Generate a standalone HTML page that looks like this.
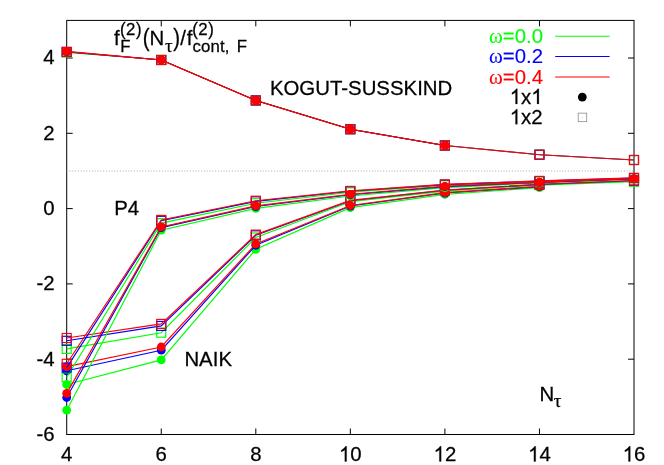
<!DOCTYPE html>
<html><head><meta charset="utf-8"><title>plot</title>
<style>
html,body{margin:0;padding:0;background:#fff;}
svg{display:block;}
text{font-family:"Liberation Sans",sans-serif;font-size:20.4px;stroke:#000;stroke-width:0.25px;}
.sy{font-family:"Liberation Serif",serif;}
.s16{font-size:16.8px;}
.tau{font-size:19px;}
.om{font-size:21px;}
</style></head><body>
<svg width="664" height="465" viewBox="0 0 664 465">
<rect width="664" height="465" fill="#fff"/>
<rect x="66.7" y="20.4" width="567.3" height="414.1" fill="none" stroke="#000" stroke-width="1"/>
<path d="M66.7 58h6M634 58h-6M66.7 133.3h6M634 133.3h-6M66.7 208.6h6M634 208.6h-6M66.7 283.9h6M634 283.9h-6M66.7 359.2h6M634 359.2h-6M161.25 434.5v-6M161.25 20.4v6M255.8 434.5v-6M255.8 20.4v6M350.35 434.5v-6M350.35 20.4v6M444.9 434.5v-6M444.9 20.4v6M539.45 434.5v-6M539.45 20.4v6" stroke="#000" stroke-width="1" fill="none"/>
<line x1="66.7" y1="170.95" x2="634" y2="170.95" stroke="#a8a8a8" stroke-width="1.1" stroke-dasharray="1 1.8"/>
<g stroke="#00ff00" fill="none" stroke-width="1.15">
<polyline points="66.7,52.3 161.25,59.8 255.8,100.3 350.35,129.15 444.9,145.5" stroke-width="0.75"/>
<circle cx="66.7" cy="52.3" r="4.4" fill="#00ff00" stroke="none"/>
<circle cx="161.25" cy="59.8" r="4.4" fill="#00ff00" stroke="none"/>
<circle cx="255.8" cy="100.3" r="4.4" fill="#00ff00" stroke="none"/>
<circle cx="350.35" cy="129.15" r="4.4" fill="#00ff00" stroke="none"/>
<circle cx="444.9" cy="145.5" r="4.4" fill="#00ff00" stroke="none"/>
<polyline points="66.7,52.5 161.25,59.8 255.8,100.3 350.35,129.15 444.9,145.5 539.45,154.7 634,160" stroke-width="0.75"/>
<rect x="62.2" y="48" width="9" height="9"/>
<rect x="156.75" y="55.3" width="9" height="9"/>
<rect x="251.3" y="95.8" width="9" height="9"/>
<rect x="345.85" y="124.65" width="9" height="9"/>
<rect x="440.4" y="141" width="9" height="9"/>
<rect x="534.95" y="150.2" width="9" height="9"/>
<rect x="629.5" y="155.5" width="9" height="9"/>
</g>
<g stroke="#0000ff" fill="none" stroke-width="1.15">
<polyline points="66.7,51.7 161.25,59.95 255.8,100.45 350.35,129.22 444.9,145.5" stroke-width="0.75"/>
<circle cx="66.7" cy="51.7" r="4.4" fill="#0000ff" stroke="none"/>
<circle cx="161.25" cy="59.95" r="4.4" fill="#0000ff" stroke="none"/>
<circle cx="255.8" cy="100.45" r="4.4" fill="#0000ff" stroke="none"/>
<circle cx="350.35" cy="129.22" r="4.4" fill="#0000ff" stroke="none"/>
<circle cx="444.9" cy="145.5" r="4.4" fill="#0000ff" stroke="none"/>
<polyline points="66.7,52 161.25,59.99 255.8,100.45 350.35,129.22 444.9,145.5 539.45,154.7 634,160" stroke-width="0.75"/>
<rect x="62.2" y="47.5" width="9" height="9"/>
<rect x="156.75" y="55.49" width="9" height="9"/>
<rect x="251.3" y="95.95" width="9" height="9"/>
<rect x="345.85" y="124.72" width="9" height="9"/>
<rect x="440.4" y="141" width="9" height="9"/>
<rect x="534.95" y="150.2" width="9" height="9"/>
<rect x="629.5" y="155.5" width="9" height="9"/>
</g>
<g stroke="#ff0000" fill="none" stroke-width="1.15">
<polyline points="66.7,51.3 161.25,60 255.8,100.5 350.35,129.25 444.9,145.5"/>
<circle cx="66.7" cy="51.3" r="4.4" fill="#ff0000" stroke="none"/>
<circle cx="161.25" cy="60" r="4.4" fill="#ff0000" stroke="none"/>
<circle cx="255.8" cy="100.5" r="4.4" fill="#ff0000" stroke="none"/>
<circle cx="350.35" cy="129.25" r="4.4" fill="#ff0000" stroke="none"/>
<circle cx="444.9" cy="145.5" r="4.4" fill="#ff0000" stroke="none"/>
<polyline points="66.7,51.8 161.25,60.05 255.8,100.5 350.35,129.25 444.9,145.5 539.45,154.7 634,160"/>
<rect x="62.2" y="47.3" width="9" height="9"/>
<rect x="156.75" y="55.55" width="9" height="9"/>
<rect x="251.3" y="96" width="9" height="9"/>
<rect x="345.85" y="124.75" width="9" height="9"/>
<rect x="440.4" y="141" width="9" height="9"/>
<rect x="534.95" y="150.2" width="9" height="9"/>
<rect x="629.5" y="155.5" width="9" height="9"/>
</g>
<g stroke="#00ff00" fill="none" stroke-width="1.15">
<polyline points="66.7,384.5 161.25,359.9 255.8,249.3 350.35,207.6 444.9,194.4 539.45,187.7"/>
<circle cx="66.7" cy="384.5" r="4.4" fill="#00ff00" stroke="none"/>
<circle cx="161.25" cy="359.9" r="4.4" fill="#00ff00" stroke="none"/>
<circle cx="255.8" cy="249.3" r="4.4" fill="#00ff00" stroke="none"/>
<circle cx="350.35" cy="207.6" r="4.4" fill="#00ff00" stroke="none"/>
<circle cx="444.9" cy="194.4" r="4.4" fill="#00ff00" stroke="none"/>
<circle cx="539.45" cy="187.7" r="4.4" fill="#00ff00" stroke="none"/>
<polyline points="66.7,348.9 161.25,332.7 255.8,237.5 350.35,201.8 444.9,191.1 539.45,185.1 634,181.8"/>
<rect x="62.2" y="344.4" width="9" height="9"/>
<rect x="156.75" y="328.2" width="9" height="9"/>
<rect x="251.3" y="233" width="9" height="9"/>
<rect x="345.85" y="197.3" width="9" height="9"/>
<rect x="440.4" y="186.6" width="9" height="9"/>
<rect x="534.95" y="180.6" width="9" height="9"/>
<rect x="629.5" y="177.3" width="9" height="9"/>
</g>
<g stroke="#0000ff" fill="none" stroke-width="1.15">
<polyline points="66.7,370.8 161.25,350.2 255.8,245.25 350.35,206.03 444.9,193.05 539.45,186.72"/>
<circle cx="66.7" cy="370.8" r="4.4" fill="#0000ff" stroke="none"/>
<circle cx="161.25" cy="350.2" r="4.4" fill="#0000ff" stroke="none"/>
<circle cx="255.8" cy="245.25" r="4.4" fill="#0000ff" stroke="none"/>
<circle cx="350.35" cy="206.03" r="4.4" fill="#0000ff" stroke="none"/>
<circle cx="444.9" cy="193.05" r="4.4" fill="#0000ff" stroke="none"/>
<circle cx="539.45" cy="186.72" r="4.4" fill="#0000ff" stroke="none"/>
<polyline points="66.7,340.8 161.25,325.9 255.8,235.32 350.35,200.75 444.9,190.28 539.45,184.42 634,180.75"/>
<rect x="62.2" y="336.3" width="9" height="9"/>
<rect x="156.75" y="321.4" width="9" height="9"/>
<rect x="251.3" y="230.82" width="9" height="9"/>
<rect x="345.85" y="196.25" width="9" height="9"/>
<rect x="440.4" y="185.78" width="9" height="9"/>
<rect x="534.95" y="179.92" width="9" height="9"/>
<rect x="629.5" y="176.25" width="9" height="9"/>
</g>
<g stroke="#ff0000" fill="none" stroke-width="1.15">
<polyline points="66.7,366.6 161.25,347 255.8,243.9 350.35,205.5 444.9,192.6 539.45,186.4"/>
<circle cx="66.7" cy="366.6" r="4.4" fill="#ff0000" stroke="none"/>
<circle cx="161.25" cy="347" r="4.4" fill="#ff0000" stroke="none"/>
<circle cx="255.8" cy="243.9" r="4.4" fill="#ff0000" stroke="none"/>
<circle cx="350.35" cy="205.5" r="4.4" fill="#ff0000" stroke="none"/>
<circle cx="444.9" cy="192.6" r="4.4" fill="#ff0000" stroke="none"/>
<circle cx="539.45" cy="186.4" r="4.4" fill="#ff0000" stroke="none"/>
<polyline points="66.7,338 161.25,323.9 255.8,234.6 350.35,200.4 444.9,190 539.45,184.2 634,180.4"/>
<rect x="62.2" y="333.5" width="9" height="9"/>
<rect x="156.75" y="319.4" width="9" height="9"/>
<rect x="251.3" y="230.1" width="9" height="9"/>
<rect x="345.85" y="195.9" width="9" height="9"/>
<rect x="440.4" y="185.5" width="9" height="9"/>
<rect x="534.95" y="179.7" width="9" height="9"/>
<rect x="629.5" y="175.9" width="9" height="9"/>
</g>
<g stroke="#00ff00" fill="none" stroke-width="1.15">
<polyline points="66.7,377.3 161.25,223.1 255.8,203.2 350.35,192.3 444.9,185.3 539.45,181.5 634,178.3"/>
<rect x="62.2" y="372.8" width="9" height="9"/>
<rect x="156.75" y="218.6" width="9" height="9"/>
<rect x="251.3" y="198.7" width="9" height="9"/>
<rect x="345.85" y="187.8" width="9" height="9"/>
<rect x="440.4" y="180.8" width="9" height="9"/>
<rect x="534.95" y="177" width="9" height="9"/>
<rect x="629.5" y="173.8" width="9" height="9"/>
<polyline points="66.7,410.2 161.25,230.2 255.8,208.4 350.35,196 444.9,187.6 539.45,183 634,179.3"/>
<circle cx="66.7" cy="410.2" r="4.4" fill="#00ff00" stroke="none"/>
<circle cx="161.25" cy="230.2" r="4.4" fill="#00ff00" stroke="none"/>
<circle cx="255.8" cy="208.4" r="4.4" fill="#00ff00" stroke="none"/>
<circle cx="350.35" cy="196" r="4.4" fill="#00ff00" stroke="none"/>
<circle cx="444.9" cy="187.6" r="4.4" fill="#00ff00" stroke="none"/>
<circle cx="539.45" cy="183" r="4.4" fill="#00ff00" stroke="none"/>
<circle cx="634" cy="179.3" r="4.4" fill="#00ff00" stroke="none"/>
</g>
<g stroke="#0000ff" fill="none" stroke-width="1.15">
<polyline points="66.7,367.6 161.25,220.8 255.8,201.32 350.35,191.25 444.9,184.62 539.45,181.05 634,178"/>
<rect x="62.2" y="363.1" width="9" height="9"/>
<rect x="156.75" y="216.3" width="9" height="9"/>
<rect x="251.3" y="196.82" width="9" height="9"/>
<rect x="345.85" y="186.75" width="9" height="9"/>
<rect x="440.4" y="180.12" width="9" height="9"/>
<rect x="534.95" y="176.55" width="9" height="9"/>
<rect x="629.5" y="173.5" width="9" height="9"/>
<polyline points="66.7,397.5 161.25,227.6 255.8,206.53 350.35,194.73 444.9,186.62 539.45,182.32 634,178.85"/>
<circle cx="66.7" cy="397.5" r="4.4" fill="#0000ff" stroke="none"/>
<circle cx="161.25" cy="227.6" r="4.4" fill="#0000ff" stroke="none"/>
<circle cx="255.8" cy="206.53" r="4.4" fill="#0000ff" stroke="none"/>
<circle cx="350.35" cy="194.73" r="4.4" fill="#0000ff" stroke="none"/>
<circle cx="444.9" cy="186.62" r="4.4" fill="#0000ff" stroke="none"/>
<circle cx="539.45" cy="182.32" r="4.4" fill="#0000ff" stroke="none"/>
<circle cx="634" cy="178.85" r="4.4" fill="#0000ff" stroke="none"/>
</g>
<g stroke="#ff0000" fill="none" stroke-width="1.15">
<polyline points="66.7,363.8 161.25,219.9 255.8,200.7 350.35,190.9 444.9,184.4 539.45,180.9 634,177.9"/>
<rect x="62.2" y="359.3" width="9" height="9"/>
<rect x="156.75" y="215.4" width="9" height="9"/>
<rect x="251.3" y="196.2" width="9" height="9"/>
<rect x="345.85" y="186.4" width="9" height="9"/>
<rect x="440.4" y="179.9" width="9" height="9"/>
<rect x="534.95" y="176.4" width="9" height="9"/>
<rect x="629.5" y="173.4" width="9" height="9"/>
<polyline points="66.7,393.4 161.25,226.9 255.8,205.9 350.35,194.3 444.9,186.3 539.45,182.1 634,178.7"/>
<circle cx="66.7" cy="393.4" r="4.4" fill="#ff0000" stroke="none"/>
<circle cx="161.25" cy="226.9" r="4.4" fill="#ff0000" stroke="none"/>
<circle cx="255.8" cy="205.9" r="4.4" fill="#ff0000" stroke="none"/>
<circle cx="350.35" cy="194.3" r="4.4" fill="#ff0000" stroke="none"/>
<circle cx="444.9" cy="186.3" r="4.4" fill="#ff0000" stroke="none"/>
<circle cx="539.45" cy="182.1" r="4.4" fill="#ff0000" stroke="none"/>
<circle cx="634" cy="178.7" r="4.4" fill="#ff0000" stroke="none"/>
</g>
<defs><filter id="n" x="0" y="0" width="664" height="465" filterUnits="userSpaceOnUse"><feOffset dx="0" dy="0"/></filter></defs>
<g filter="url(#n)">
<text transform="translate(54.6,64.4) scale(1,1.025)" text-anchor="end">4</text>
<text transform="translate(54.6,139.7) scale(1,1.025)" text-anchor="end">2</text>
<text transform="translate(54.6,215) scale(1,1.025)" text-anchor="end">0</text>
<text transform="translate(54.6,290.3) scale(1,1.025)" text-anchor="end">-2</text>
<text transform="translate(54.6,365.6) scale(1,1.025)" text-anchor="end">-4</text>
<text transform="translate(54.6,440.9) scale(1,1.025)" text-anchor="end">-6</text>
<text transform="translate(61.03,461.4) scale(1,1.025)">4</text>
<text transform="translate(155.58,461.4) scale(1,1.025)">6</text>
<text transform="translate(250.13,461.4) scale(1,1.025)">8</text>
<path transform="translate(339.01,461.4) scale(0.00996,-0.01021)" d="M763 0H583V1147Q518 1085 412.5 1023T223 930V1104Q374 1175 487 1276T647 1472H763Z" fill="#000" stroke="#000" stroke-width="25"/><text transform="translate(350.35,461.4) scale(1,1.025)">0</text>
<path transform="translate(433.56,461.4) scale(0.00996,-0.01021)" d="M763 0H583V1147Q518 1085 412.5 1023T223 930V1104Q374 1175 487 1276T647 1472H763Z" fill="#000" stroke="#000" stroke-width="25"/><text transform="translate(444.9,461.4) scale(1,1.025)">2</text>
<path transform="translate(528.11,461.4) scale(0.00996,-0.01021)" d="M763 0H583V1147Q518 1085 412.5 1023T223 930V1104Q374 1175 487 1276T647 1472H763Z" fill="#000" stroke="#000" stroke-width="25"/><text transform="translate(539.45,461.4) scale(1,1.025)">4</text>
<path transform="translate(622.66,461.4) scale(0.00996,-0.01021)" d="M763 0H583V1147Q518 1085 412.5 1023T223 930V1104Q374 1175 487 1276T647 1472H763Z" fill="#000" stroke="#000" stroke-width="25"/><text transform="translate(634,461.4) scale(1,1.025)">6</text>
<text transform="translate(269.9,94.6) scale(1,1.025)">KOGUT-SUSSKIND</text>
<text transform="translate(114.2,215.4) scale(1,1.025)">P4</text>
<text transform="translate(184.4,365.6) scale(1,1.025)">NAIK</text>
<text transform="translate(539.4,401.2) scale(1,1.025)">N</text>
<text transform="translate(553.8,407.4) scale(1,1)" class="sy tau">τ</text>
<text transform="translate(113.9,45.1) scale(1,1.025)">f</text>
<text transform="translate(120.3,51.7) scale(1,1.025)" class="s16">F</text>
<text transform="translate(120,35.4) scale(1,1.13)" class="s16">(</text>
<text transform="translate(126,34.8) scale(1,1.025)" class="s16">2</text>
<text transform="translate(136,35.4) scale(1,1.13)" class="s16">)</text>
<text transform="translate(142.8,45.8) scale(1,1.13)">(</text>
<text transform="translate(149.5,45.1) scale(1,1.025)">N</text>
<text transform="translate(165,52.4) scale(1,1)" class="sy tau">τ</text>
<text transform="translate(173.2,45.8) scale(1,1.13)">)</text>
<text transform="translate(180.3,45.1) scale(1,1.025)">/</text>
<text transform="translate(186.7,45.1) scale(1,1.025)">f</text>
<text transform="translate(192.5,51.7) scale(1,1.025)" class="s16" textLength="37" lengthAdjust="spacing">cont,</text>
<text transform="translate(236.7,51.7) scale(1,1.025)" class="s16">F</text>
<text transform="translate(192.3,35.4) scale(1,1.13)" class="s16">(</text>
<text transform="translate(198.3,34.8) scale(1,1.025)" class="s16">2</text>
<text transform="translate(208.3,35.4) scale(1,1.13)" class="s16">)</text>
<text transform="translate(543,43) scale(1,1.025)" text-anchor="end" style="fill:#00ff00;stroke:#00ff00;stroke-width:0.12px"><tspan class="sy om">ω</tspan>=0.0</text>
<line x1="555.2" x2="609.6" y1="36.25" y2="36.25" stroke="#00ff00" stroke-width="1.05"/>
<text transform="translate(543,63.3) scale(1,1.025)" text-anchor="end" style="fill:#0000ff;stroke:#0000ff;stroke-width:0.12px"><tspan class="sy om">ω</tspan>=0.2</text>
<line x1="555.2" x2="609.6" y1="56.5" y2="56.5" stroke="#0000ff" stroke-width="1.05"/>
<text transform="translate(543,83.6) scale(1,1.025)" text-anchor="end" style="fill:#ff0000;stroke:#ff0000;stroke-width:0.12px"><tspan class="sy om">ω</tspan>=0.4</text>
<line x1="555.2" x2="609.6" y1="77" y2="77" stroke="#ff0000" stroke-width="1.05"/>
<path transform="translate(509.72,103.9) scale(0.00996,-0.01021)" d="M763 0H583V1147Q518 1085 412.5 1023T223 930V1104Q374 1175 487 1276T647 1472H763Z" fill="#000" stroke="#000" stroke-width="25"/><text transform="translate(521.06,103.9) scale(1,1.025)">x</text><path transform="translate(531.26,103.9) scale(0.00996,-0.01021)" d="M763 0H583V1147Q518 1085 412.5 1023T223 930V1104Q374 1175 487 1276T647 1472H763Z" fill="#000" stroke="#000" stroke-width="25"/>
<circle cx="582.3" cy="97.1" r="4.4" fill="#000"/>
<path transform="translate(509.72,124.2) scale(0.00996,-0.01021)" d="M763 0H583V1147Q518 1085 412.5 1023T223 930V1104Q374 1175 487 1276T647 1472H763Z" fill="#000" stroke="#000" stroke-width="25"/><text transform="translate(521.06,124.2) scale(1,1.025)">x2</text>
<rect x="578.2" y="113.15" width="8.5" height="8.5" fill="none" stroke="#8c8c8c" stroke-width="0.8"/>
<rect x="582" y="117" width="0.8" height="0.8" fill="#b0b0b0"/>
</g>
</svg>
</body></html>
